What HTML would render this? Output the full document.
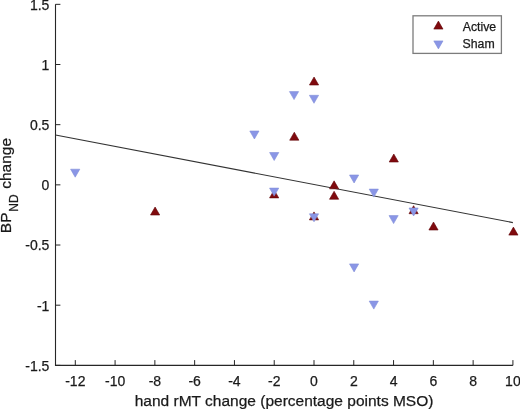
<!DOCTYPE html>
<html><head><meta charset="utf-8"><style>
html,body{margin:0;padding:0;background:#fff;}
body{width:520px;height:409px;overflow:hidden;}
svg{display:block;will-change:transform;}
text{font-family:"Liberation Sans",sans-serif;fill:#1a1a1a;stroke:#1a1a1a;stroke-width:0.25px;}
.t14{font-size:14px;}
.t12{font-size:12.3px;}
.tl{font-size:15.5px;}
.ts{font-size:12px;}
</style></head><body>
<svg width="520" height="409" viewBox="0 0 520 409">
<path d="M55.5,4.3 V365.4 H512.9" fill="none" stroke="#262626" stroke-width="1.1"/>
<line x1="55.5" y1="4.33" x2="60.4" y2="4.33" stroke="#262626" stroke-width="1"/>
<text x="49.4" y="9.73" text-anchor="end" class="t14">1.5</text>
<line x1="55.5" y1="64.50" x2="60.4" y2="64.50" stroke="#262626" stroke-width="1"/>
<text x="49.4" y="69.90" text-anchor="end" class="t14">1</text>
<line x1="55.5" y1="124.67" x2="60.4" y2="124.67" stroke="#262626" stroke-width="1"/>
<text x="49.4" y="130.07" text-anchor="end" class="t14">0.5</text>
<line x1="55.5" y1="184.85" x2="60.4" y2="184.85" stroke="#262626" stroke-width="1"/>
<text x="49.4" y="190.25" text-anchor="end" class="t14">0</text>
<line x1="55.5" y1="245.02" x2="60.4" y2="245.02" stroke="#262626" stroke-width="1"/>
<text x="49.4" y="250.42" text-anchor="end" class="t14">-0.5</text>
<line x1="55.5" y1="305.20" x2="60.4" y2="305.20" stroke="#262626" stroke-width="1"/>
<text x="49.4" y="310.60" text-anchor="end" class="t14">-1</text>
<line x1="55.5" y1="365.38" x2="60.4" y2="365.38" stroke="#262626" stroke-width="1"/>
<text x="49.4" y="370.77" text-anchor="end" class="t14">-1.5</text>
<line x1="75.31" y1="365.4" x2="75.31" y2="360.1" stroke="#262626" stroke-width="1"/>
<text x="75.31" y="385.8" text-anchor="middle" class="t14">-12</text>
<line x1="115.09" y1="365.4" x2="115.09" y2="360.1" stroke="#262626" stroke-width="1"/>
<text x="115.09" y="385.8" text-anchor="middle" class="t14">-10</text>
<line x1="154.87" y1="365.4" x2="154.87" y2="360.1" stroke="#262626" stroke-width="1"/>
<text x="154.87" y="385.8" text-anchor="middle" class="t14">-8</text>
<line x1="194.65" y1="365.4" x2="194.65" y2="360.1" stroke="#262626" stroke-width="1"/>
<text x="194.65" y="385.8" text-anchor="middle" class="t14">-6</text>
<line x1="234.44" y1="365.4" x2="234.44" y2="360.1" stroke="#262626" stroke-width="1"/>
<text x="234.44" y="385.8" text-anchor="middle" class="t14">-4</text>
<line x1="274.22" y1="365.4" x2="274.22" y2="360.1" stroke="#262626" stroke-width="1"/>
<text x="274.22" y="385.8" text-anchor="middle" class="t14">-2</text>
<line x1="314.00" y1="365.4" x2="314.00" y2="360.1" stroke="#262626" stroke-width="1"/>
<text x="314.00" y="385.8" text-anchor="middle" class="t14">0</text>
<line x1="353.78" y1="365.4" x2="353.78" y2="360.1" stroke="#262626" stroke-width="1"/>
<text x="353.78" y="385.8" text-anchor="middle" class="t14">2</text>
<line x1="393.56" y1="365.4" x2="393.56" y2="360.1" stroke="#262626" stroke-width="1"/>
<text x="393.56" y="385.8" text-anchor="middle" class="t14">4</text>
<line x1="433.35" y1="365.4" x2="433.35" y2="360.1" stroke="#262626" stroke-width="1"/>
<text x="433.35" y="385.8" text-anchor="middle" class="t14">6</text>
<line x1="473.13" y1="365.4" x2="473.13" y2="360.1" stroke="#262626" stroke-width="1"/>
<text x="473.13" y="385.8" text-anchor="middle" class="t14">8</text>
<line x1="512.91" y1="365.4" x2="512.91" y2="360.1" stroke="#262626" stroke-width="1"/>
<text x="512.91" y="385.8" text-anchor="middle" class="t14">10</text>
<line x1="55.5" y1="135.0" x2="512.9" y2="222.6" stroke="#333" stroke-width="1.1"/>
<polygon points="150.50,215.00 159.70,215.00 155.10,207.00" fill="#800a0e" stroke="#600306" stroke-width="0.6" stroke-linejoin="miter"/>
<polygon points="269.55,197.90 278.75,197.90 274.15,189.90" fill="#800a0e" stroke="#600306" stroke-width="0.6" stroke-linejoin="miter"/>
<polygon points="289.70,140.20 298.90,140.20 294.30,132.20" fill="#800a0e" stroke="#600306" stroke-width="0.6" stroke-linejoin="miter"/>
<polygon points="309.45,85.00 318.65,85.00 314.05,77.00" fill="#800a0e" stroke="#600306" stroke-width="0.6" stroke-linejoin="miter"/>
<polygon points="309.40,219.90 318.60,219.90 314.00,211.90" fill="#800a0e" stroke="#600306" stroke-width="0.6" stroke-linejoin="miter"/>
<polygon points="329.50,188.85 338.70,188.85 334.10,180.85" fill="#800a0e" stroke="#600306" stroke-width="0.6" stroke-linejoin="miter"/>
<polygon points="329.50,199.25 338.70,199.25 334.10,191.25" fill="#800a0e" stroke="#600306" stroke-width="0.6" stroke-linejoin="miter"/>
<polygon points="389.20,162.00 398.40,162.00 393.80,154.00" fill="#800a0e" stroke="#600306" stroke-width="0.6" stroke-linejoin="miter"/>
<polygon points="409.00,213.70 418.20,213.70 413.60,205.70" fill="#800a0e" stroke="#600306" stroke-width="0.6" stroke-linejoin="miter"/>
<polygon points="428.90,230.00 438.10,230.00 433.50,222.00" fill="#800a0e" stroke="#600306" stroke-width="0.6" stroke-linejoin="miter"/>
<polygon points="508.80,235.10 518.00,235.10 513.40,227.10" fill="#800a0e" stroke="#600306" stroke-width="0.6" stroke-linejoin="miter"/>
<polygon points="70.60,169.20 79.80,169.20 75.20,177.20" fill="#8a96e6" stroke="#828ed8" stroke-width="0.6" stroke-linejoin="miter"/>
<polygon points="249.80,131.00 259.00,131.00 254.40,139.00" fill="#8a96e6" stroke="#828ed8" stroke-width="0.6" stroke-linejoin="miter"/>
<polygon points="269.60,152.50 278.80,152.50 274.20,160.50" fill="#8a96e6" stroke="#828ed8" stroke-width="0.6" stroke-linejoin="miter"/>
<polygon points="269.55,188.10 278.75,188.10 274.15,196.10" fill="#8a96e6" stroke="#828ed8" stroke-width="0.6" stroke-linejoin="miter"/>
<polygon points="289.45,91.60 298.65,91.60 294.05,99.60" fill="#8a96e6" stroke="#828ed8" stroke-width="0.6" stroke-linejoin="miter"/>
<polygon points="309.40,95.30 318.60,95.30 314.00,103.30" fill="#8a96e6" stroke="#828ed8" stroke-width="0.6" stroke-linejoin="miter"/>
<polygon points="309.40,213.85 318.60,213.85 314.00,221.85" fill="#8a96e6" stroke="#828ed8" stroke-width="0.6" stroke-linejoin="miter"/>
<polygon points="349.50,175.00 358.70,175.00 354.10,183.00" fill="#8a96e6" stroke="#828ed8" stroke-width="0.6" stroke-linejoin="miter"/>
<polygon points="349.50,263.90 358.70,263.90 354.10,271.90" fill="#8a96e6" stroke="#828ed8" stroke-width="0.6" stroke-linejoin="miter"/>
<polygon points="369.20,189.10 378.40,189.10 373.80,197.10" fill="#8a96e6" stroke="#828ed8" stroke-width="0.6" stroke-linejoin="miter"/>
<polygon points="369.20,301.10 378.40,301.10 373.80,309.10" fill="#8a96e6" stroke="#828ed8" stroke-width="0.6" stroke-linejoin="miter"/>
<polygon points="389.00,215.60 398.20,215.60 393.60,223.60" fill="#8a96e6" stroke="#828ed8" stroke-width="0.6" stroke-linejoin="miter"/>
<polygon points="409.00,208.00 418.20,208.00 413.60,216.00" fill="#8a96e6" stroke="#828ed8" stroke-width="0.6" stroke-linejoin="miter"/>
<rect x="413.0" y="15.8" width="88.4" height="37.6" fill="#fff" stroke="#7c7c7c" stroke-width="1.3"/>
<polygon points="433.80,29.10 443.00,29.10 438.40,21.10" fill="#800a0e" stroke="#600306" stroke-width="0.6" stroke-linejoin="miter"/>
<polygon points="433.80,40.90 443.00,40.90 438.40,48.90" fill="#8a96e6" stroke="#828ed8" stroke-width="0.6" stroke-linejoin="miter"/>
<text x="462.7" y="31.3" class="t12">Active</text>
<text x="462.5" y="48.3" class="t12">Sham</text>
<text x="284.1" y="405.6" text-anchor="middle" class="tl">hand rMT change (percentage points MSO)</text>
<text transform="translate(10.7,233.2) rotate(-90)" class="tl">BP</text>
<text transform="translate(17.9,211.7) rotate(-90)" class="ts">ND</text>
<text transform="translate(10.7,188.8) rotate(-90)" class="tl">change</text>
</svg>
</body></html>
